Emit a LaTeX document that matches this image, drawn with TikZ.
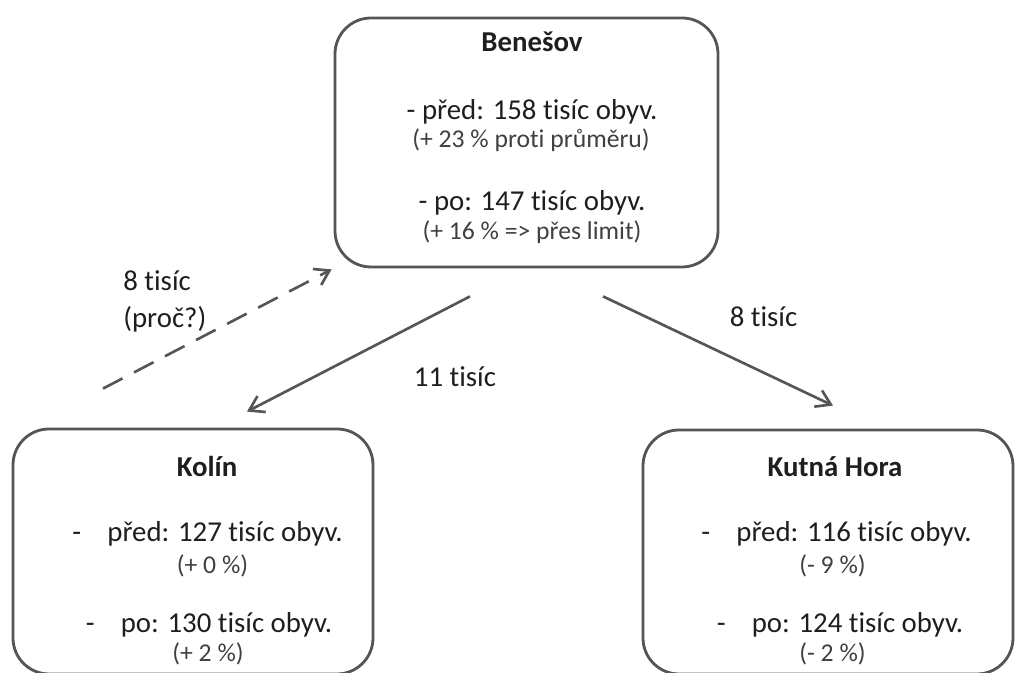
\documentclass[tikz,border=0pt]{standalone}
\usepackage{fontspec}
\setmainfont{Carlito}[Ligatures=NoCommon]
\usetikzlibrary{arrows.meta}

\definecolor{boxgray}{HTML}{555555}
\definecolor{textdark}{HTML}{1E1E1E}
\definecolor{textsoft}{HTML}{404040}

\newcommand{\dashitem}[1]{\makebox[0.7cm][l]{-}#1}

\begin{document}
\begin{tikzpicture}[
        town/.style={draw=boxgray, line width=1.6pt, rounded corners=0.72cm, inner sep=0pt},
        townname/.style={font=\fontsize{16.4}{20}\selectfont\bfseries, text=textdark, inner sep=0pt},
        line/.style={font=\fontsize{16.4}{20}\selectfont, text=textdark, inner sep=0pt},
        note/.style={font=\fontsize{14.6}{18}\selectfont, text=textsoft, inner sep=0pt},
        flow/.style={draw=boxgray, line width=1.5pt, -{Straight Barb[length=0.28cm,width=0.36cm]}},
        lbl/.style={font=\fontsize{16.4}{21}\selectfont, text=textdark, inner sep=0pt}
    ]
        \useasboundingbox (0,0) rectangle (20.34,13.46);

        % Benešov
        \node[town, minimum width=7.66cm, minimum height=4.98cm] (benesov) at (10.53,10.61) {};
        \node[townname] (benesovname) at (10.64,12.62) {Benešov};
        \node[line] (benesovpred) at (10.64,11.22) {- před: 158 tisíc obyv.};
        \node[note] (benesovprednote) at (10.62,10.66) {(+ 23 \% proti průměru)};
        \node[line] (benesovpo) at (10.64,9.40) {- po: 147 tisíc obyv.};
        \node[note] (benesovponote) at (10.64,8.82) {(+ 16 \% => přes limit)};

        % Kolín
        \node[town, minimum width=7.20cm, minimum height=4.90cm] (kolin) at (3.86,2.43) {};
        \node[townname] (kolinname) at (4.14,4.12) {Kolín};
        \node[line] (kolinpred) at (4.15,2.78) {\dashitem{před: 127 tisíc obyv.}};
        \node[note] (kolinprednote) at (4.25,2.14) {(+ 0 \%)};
        \node[line] (kolinpo) at (4.18,0.96) {\dashitem{po: 130 tisíc obyv.}};
        \node[note] (kolinponote) at (4.16,0.38) {(+ 2 \%)};

        % Kutná Hora
        \node[town, minimum width=7.40cm, minimum height=4.88cm] (kutna) at (16.56,2.42) {};
        \node[townname] (kutnaname) at (16.70,4.12) {Kutná Hora};
        \node[line] (kutnapred) at (16.73,2.78) {\dashitem{před: 116 tisíc obyv.}};
        \node[note] (kutnaprednote) at (16.65,2.14) {(- 9 \%)};
        \node[line] (kutnapo) at (16.80,0.96) {\dashitem{po: 124 tisíc obyv.}};
        \node[note] (kutnaponote) at (16.65,0.38) {(- 2 \%)};

        % arrows
        \draw[flow] ([shift={(-1.13,-0.56)}]benesov.south) -- ([shift={(1.08,0.32)}]kolin.north);
        \draw[flow] ([shift={(1.53,-0.56)}]benesov.south) -- ([shift={(0.10,0.46)}]kutna.north);
        \draw[flow, dash pattern=on 0.44cm off 0.26cm] ([shift={(-1.80,0.78)}]kolin.north) -- ([shift={(-0.04,-0.02)}]benesov.south west);

        \node[lbl] (tokolin) at (9.10,5.92) {11 tisíc};
        \node[lbl] (tokutna) at (15.27,7.12) {8 tisíc};
        \node[lbl, align=left, anchor=west] (tobenesov) at (2.46,7.43) {8 tisíc\\(proč?)};
    \end{tikzpicture}
\end{document}
